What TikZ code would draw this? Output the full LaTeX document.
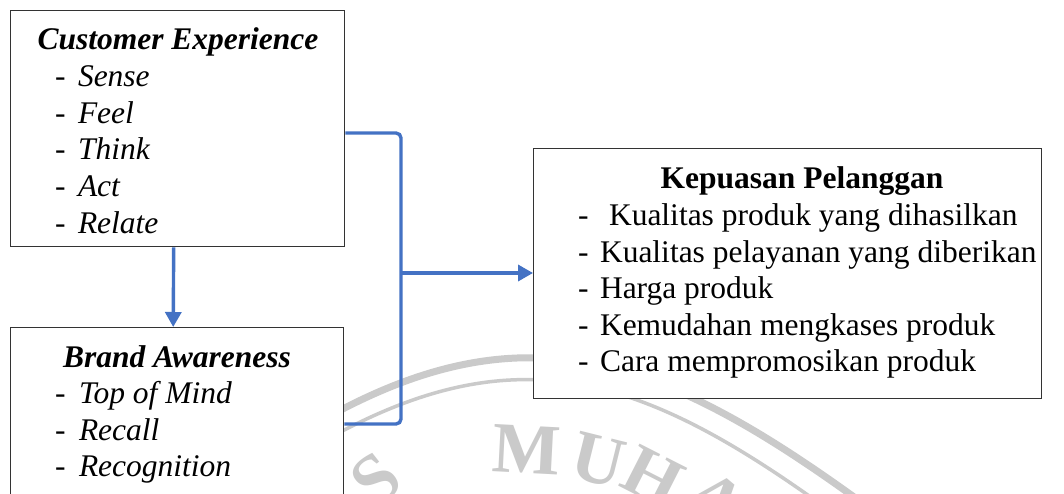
\documentclass[tikz,border=0pt]{standalone}
\usepackage{fontspec}
\setmainfont{Liberation Serif}
\usetikzlibrary{arrows.meta,calc}
\definecolor{conblue}{HTML}{4472C4}
\definecolor{wmgray}{HTML}{CACACA}
\begin{document}
\begin{tikzpicture}[x=1pt,y=-1pt,
  box/.style={draw=black!80, line width=1.4pt, fill=white, inner sep=0pt, anchor=north west},
  txt/.style={inner sep=0pt, outer sep=0pt, anchor=base west, font=\fontsize{31.5}{36}\selectfont},
  itxt/.style={txt, font=\fontsize{31.5}{36}\selectfont\itshape},
  ttl/.style={inner sep=0pt, outer sep=0pt, anchor=base, font=\fontsize{31.5}{36}\selectfont\bfseries},
  ittl/.style={ttl, font=\fontsize{31.5}{36}\selectfont\bfseries\itshape},
  conn/.style={draw=conblue, line width=3.4pt},
  tip/.style={-{Triangle[length=15pt,width=16pt]}},
  wm/.style={draw=wmgray},
  wmtxt/.style={text=wmgray, inner sep=0pt, font=\fontsize{72}{72}\selectfont\bfseries}]
\clip (0,0) rectangle (1064,494);
\fill[white] (0,0) rectangle (1064,494);
% watermark
\draw[wm, line width=7pt] (300,433) .. controls (520,300) and (660,353) .. (880,516);
\draw[wm, line width=3.5pt] (300,455) .. controls (517,323) and (648,374) .. (860,533);
\node[wmtxt, rotate=38] (wS) at (376,480) {S};
\node[wmtxt, rotate=-3] (wM) at (527,450) {M};
\node[wmtxt, rotate=-14] (wU) at (598,460) {U};
\node[wmtxt, rotate=-27] (wH) at (653,477) {H};
\node[wmtxt, rotate=-40] (wA) at (716,500) {A};
% boxes
\node[box, minimum width=334pt, minimum height=236pt] (ce) at (10,10) {};
\node[box, minimum width=333pt, minimum height=200pt] (ba) at (10,327) {};
\node[box, minimum width=508pt, minimum height=250pt] (kp) at (533,148) {};
% texts: Customer Experience
\node[ittl] (ceT) at (178,50) {Customer Experience};
\foreach \t [count=\i] in {Sense,Feel,Think,Act,Relate} {
  \node[txt] (ceD\i) at (55,{50+36.6*\i}) {-};
  \node[itxt] (ce\i) at (78,{50+36.6*\i}) {\t};
}
% Brand Awareness
\node[ittl] (baT) at (177,367) {Brand Awareness};
\foreach \t [count=\i] in {Top of Mind,Recall,Recognition} {
  \node[txt] (baD\i) at (55,{367+36.6*\i}) {-};
  \node[itxt] (ba\i) at (79,{367+36.6*\i}) {\t};
}
% Kepuasan Pelanggan
\node[ttl] (kpT) at (802,189) {Kepuasan Pelanggan};
\node[txt] (kpD1) at (578,225.5) {-};
\node[txt] (kp1) at (609,225.5) {Kualitas produk yang dihasilkan};
\foreach \t [count=\i from 2] in {Kualitas pelayanan yang diberikan,Harga produk,Kemudahan mengkases produk,Cara mempromosikan produk} {
  \node[txt] (kpD\i) at (578,{189+36.5*\i}) {-};
  \node[txt] (kp\i) at (600,{189+36.5*\i}) {\t};
}
% connectors
\coordinate (bt) at (401,133);
\coordinate (bb) at (401,424);
\coordinate (jn) at (401,273);
\draw[conn, tip] ([xshift=-4pt]ce.south) -- ([xshift=-4pt]ba.north);
\draw[conn, rounded corners=5pt] (ce.east |- bt) -- (bt) -- (bb) -- (ba.east |- bb);
\draw[conn, tip] (jn) -- (kp.west |- jn);
\end{tikzpicture}
\end{document}
